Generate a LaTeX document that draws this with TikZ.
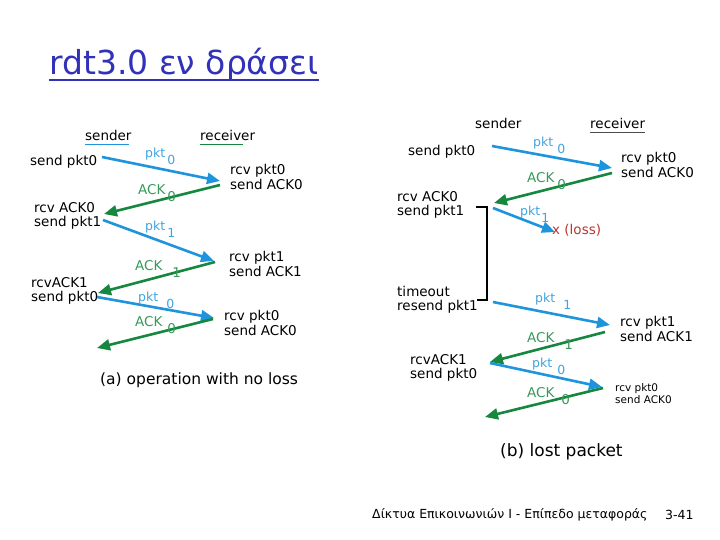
\documentclass[tikz,border=0pt]{standalone}
\usepackage{fontspec}
\setmainfont{DejaVu Sans}
\usepackage{tikz}
\usetikzlibrary{arrows.meta}
\definecolor{titleblue}{RGB}{50,50,185}
\definecolor{pktblue}{RGB}{30,148,220}
\definecolor{ackgreen}{RGB}{22,135,62}
\definecolor{lossred}{RGB}{185,55,50}
\newcommand{\seqno}[2][2pt]{\hspace{#1}\raisebox{-7pt}[0pt][0pt]{#2}}
\tikzset{
  lbl/.style={anchor=west,align=left,inner sep=0pt,font=\fontsize{13.5}{14.5}\selectfont},
  sml/.style={lbl,font=\fontsize{10.5}{12}\selectfont},
  pk/.style={lbl,font=\fontsize{12.5}{14}\selectfont,text=pktblue!85},
  ack/.style={lbl,text=ackgreen!85},
  capt/.style={anchor=west,inner sep=0pt,font=\fontsize{15.5}{18}\selectfont},
  pkar/.style={-{Triangle[length=13pt,width=11pt]},line width=2.6pt,pktblue},
  ackar/.style={pkar,ackgreen},
}

\begin{document}
\begin{tikzpicture}[x=1pt,y=-1pt]
  \useasboundingbox[fill=white] (0,0) rectangle (720,540);
  \node[anchor=base west,inner sep=0pt,font=\fontsize{33}{38}\selectfont,text=titleblue] (title) at (49,75) {rdt3.0 εν δράσει};
  \draw[titleblue,line width=2.5pt] ([yshift=-5pt]title.base west) -- ([yshift=-5pt]title.base east);

  % (a) operation with no loss
  \node[lbl] (sndA) at (85,135) {sender};
  \node[lbl] (rcvA) at (200,135) {receiver};
  \draw[pktblue,line width=1.6pt] ([yshift=-4pt]sndA.south west) -- ([yshift=-4pt,xshift=-3pt]sndA.south east);
  \draw[ackgreen,line width=1.6pt] ([yshift=-4pt]rcvA.south west) -- ([yshift=-4pt,xshift=-12pt]rcvA.south east);
  \node[lbl] (a1) at (30,162) {send pkt0};
  \node[lbl] (a2) at (230,177) {rcv pkt0\\send ACK0};
  \node[lbl] (a3) at (34,216) {rcv ACK0\\send pkt1};
  \node[lbl] (a4) at (229,264) {rcv pkt1\\send ACK1};
  \node[lbl] (a5) at (31,291) {rcvACK1\\send pkt0};
  \node[lbl] (a6) at (224,323) {rcv pkt0\\send ACK0};
  \node[capt] (capA) at (100,380) {(a) operation with no loss};

  \coordinate (aS1) at (102,157); \coordinate (aR1) at (220,181);
  \coordinate (aR2) at (220,185); \coordinate (aS2) at (104,214);
  \coordinate (aS3) at (103,220); \coordinate (aR3) at (214,261);
  \coordinate (aR4) at (215,262); \coordinate (aS4) at (98,293);
  \coordinate (aS5) at (97,297);  \coordinate (aR5) at (214,318);
  \coordinate (aR6) at (213,319); \coordinate (aS6) at (97,348);
  \draw[pkar] (aS1) -- (aR1);
  \draw[ackar] (aR2) -- (aS2);
  \draw[pkar] (aS3) -- (aR3);
  \draw[ackar] (aR4) -- (aS4);
  \draw[pkar] (aS5) -- (aR5);
  \draw[ackar] (aR6) -- (aS6);
  \node[pk] (pA1) at (145,154) {pkt\seqno{0}};
  \node[ack] (kA1) at (138,190) {ACK\seqno{0}};
  \node[pk] (pA2) at (145,227) {pkt\seqno{1}};
  \node[ack] (kA2) at (135,266) {ACK\seqno[10pt]{1}};
  \node[pk] (pA3) at (138,298) {pkt\seqno[8pt]{0}};
  \node[ack] (kA3) at (135,322) {ACK\seqno[5pt]{0}};

  % (b) lost packet
  \node[lbl] (sndB) at (475,123) {sender};
  \node[lbl] (rcvB) at (590,123) {receiver};
  \draw[black!70,line width=1pt] ([yshift=-4pt]rcvB.south west) -- ([yshift=-4pt]rcvB.south east);
  \node[lbl] (b1) at (408,152) {send pkt0};
  \node[lbl] (b2) at (621,165) {rcv pkt0\\send ACK0};
  \node[lbl] (b3) at (397,205) {rcv ACK0\\send pkt1};
  \node[lbl,text=lossred] (loss) at (552,230) {x (loss)};
  \node[lbl] (b4) at (397,300) {timeout\\resend pkt1};
  \node[lbl] (b5) at (620,329) {rcv pkt1\\send ACK1};
  \node[lbl] (b6) at (410,368) {rcvACK1\\send pkt0};
  \node[sml] (b7) at (615,394) {rcv pkt0\\send ACK0};
  \node[capt,font=\fontsize{17}{20}\selectfont] (capB) at (500,452) {(b) lost packet};

  \coordinate (tTop) at (476,207); \coordinate (tBot) at (477,300);
  \draw[line width=2pt] (tTop) -| (487,300) -- (tBot);

  \coordinate (bS1) at (492,146); \coordinate (bR1) at (612,168);
  \coordinate (bR2) at (612,173); \coordinate (bS2) at (494,203);
  \coordinate (bS3) at (493,208); \coordinate (bL3) at (555,232);
  \coordinate (bS4) at (493,302); \coordinate (bR4) at (610,325);
  \coordinate (bR5) at (605,332); \coordinate (bS5) at (490,362);
  \coordinate (bS6) at (490,363); \coordinate (bR6) at (602,387);
  \coordinate (bR7) at (603,388); \coordinate (bS7) at (485,417);
  \draw[pkar] (bS1) -- (bR1);
  \draw[ackar] (bR2) -- (bS2);
  \draw[pkar] (bS3) -- (bL3);
  \draw[pkar] (bS4) -- (bR4);
  \draw[ackar] (bR5) -- (bS5);
  \draw[pkar] (bS6) -- (bR6);
  \draw[ackar] (bR7) -- (bS7);
  \node[pk] (pB1) at (533,143) {pkt\seqno[4pt]{0}};
  \node[ack] (kB1) at (527,178) {ACK\seqno[3pt]{0}};
  \node[pk] (pB2) at (520,212) {pkt\seqno[1pt]{1}};
  \node[pk] (pB3) at (535,299) {pkt\seqno[8pt]{1}};
  \node[ack] (kB2) at (527,338) {ACK\seqno[10pt]{1}};
  \node[pk] (pB4) at (532,364) {pkt\seqno[5pt]{0}};
  \node[ack] (kB3) at (527,393) {ACK\seqno[7pt]{0}};

  \node[anchor=west,inner sep=0pt,font=\fontsize{12.5}{14}\selectfont] (foot) at (372,515) {Δίκτυα Επικοινωνιών Ι - Επίπεδο μεταφοράς};
  \node[anchor=west,inner sep=0pt,font=\fontsize{12.5}{14}\selectfont] (page) at (665,515) {3-41};
\end{tikzpicture}
\end{document}
